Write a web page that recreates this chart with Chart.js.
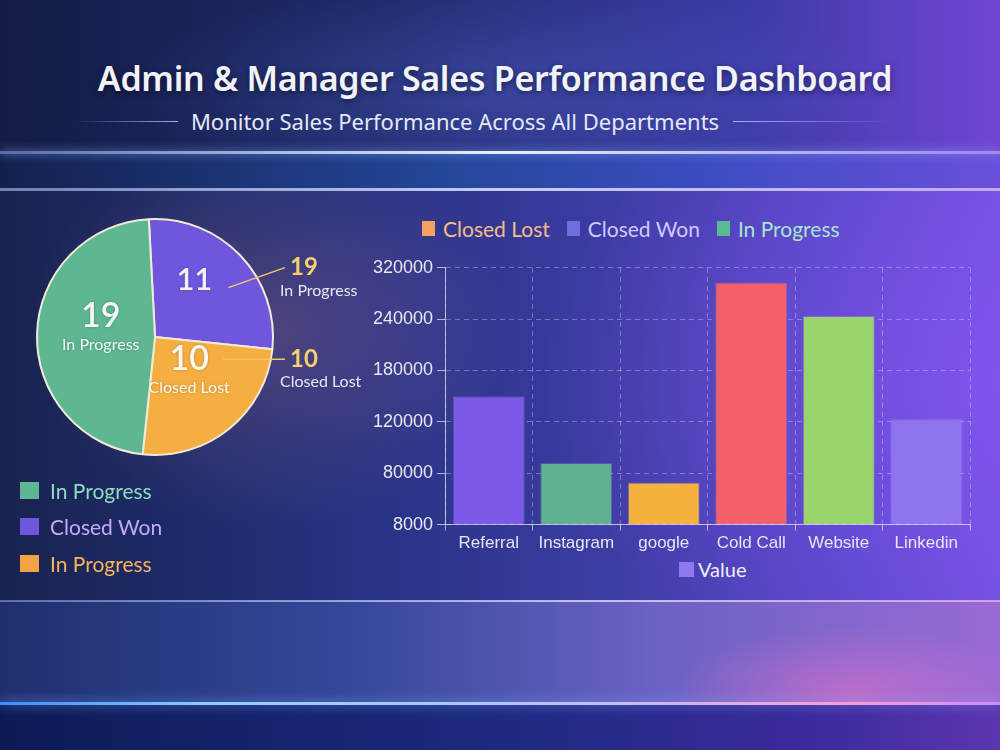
<!DOCTYPE html>
<html>
<head>
<meta charset="utf-8">
<script src="https://cdn.jsdelivr.net/npm/chart.js@4.4.1/dist/chart.umd.min.js"></script>
<style>
  html, body { margin: 0; padding: 0; }
  body {
    width: 1000px; height: 750px; overflow: hidden; position: relative;
    font-family: Lato, "Open Sans", sans-serif;
    background:
      radial-gradient(ellipse 240px 200px at 270px 330px, rgba(230,140,150,.22), rgba(0,0,0,0)),
      radial-gradient(ellipse 460px 320px at 1000px 380px, rgba(150,90,255,.45), rgba(0,0,0,0)),
      linear-gradient(90deg, #19234f 0%, #22307a 30%, #3c3ca2 60%, #5b48cc 85%, #7050e0 100%);
  }
  .band-top { position: absolute; left: 0; top: 0; width: 1000px; height: 152px;
    background:
      radial-gradient(ellipse 380px 110px at 500px 90px, rgba(90,110,220,.35), rgba(0,0,0,0)),
      linear-gradient(90deg, #141c46 0%, #1e2a6a 40%, #3c3aa6 75%, #7146d4 100%); }
  .band-mid { position: absolute; left: 0; top: 152px; width: 1000px; height: 38px;
    background: linear-gradient(90deg, #13204e 0%, #24479a 45%, #3b4cc0 70%, #6a50dc 100%); }
  .band-low { position: absolute; left: 0; top: 601px; width: 1000px; height: 102px;
    background:
      radial-gradient(ellipse 180px 70px at 850px 95px, rgba(255,120,200,.45), rgba(0,0,0,0)),
      linear-gradient(90deg, #1f2f6e 0%, #34489a 35%, #6a62c4 65%, #9a6ad6 100%); }
  .band-bot { position: absolute; left: 0; top: 703px; width: 1000px; height: 47px;
    background: linear-gradient(90deg, #0d1a55 0%, #1d2a80 50%, #3a2a9a 80%, #5b35b0 100%); }
  .glow { position: absolute; left: 0; width: 1000px; }
  .g1 { top: 151px; height: 3px; background: linear-gradient(90deg, rgba(150,180,255,.5), #e8f0ff 50%, rgba(200,170,255,.6));
        box-shadow: 0 0 10px rgba(140,180,255,.8); }
  .g2 { top: 188px; height: 3px; background: linear-gradient(90deg, rgba(170,190,240,.6), rgba(215,220,255,.9) 50%, rgba(220,190,255,.8)); }
  .g3 { top: 600px; height: 2px; background: linear-gradient(90deg, rgba(160,180,240,.5), rgba(220,210,255,.85) 60%, rgba(240,190,240,.7)); }
  .g4 { top: 702px; height: 3px; background: linear-gradient(90deg, #3d8cff, #8fd0ff 22%, #b8c4ff 55%, #ff9ad0 85%, #d08cff);
        box-shadow: 0 0 12px rgba(120,170,255,.9); }
  h1 { position: absolute; left: 0; top: 55px; width: 990px; margin: 0; text-align: center;
    font-family: "Noto Sans", sans-serif; font-weight: 600; font-size: 34px; color: #f2f2fa;
    letter-spacing: -0.3px; text-shadow: 0 2px 6px rgba(0,0,0,.5); }
  .sub { position: absolute; left: 0; top: 106px; width: 910px; text-align: center;
    font-family: "Noto Sans", sans-serif; font-size: 22px; color: #e6e8f6; }
  .rule { position: absolute; top: 121px; height: 1px; }
  .r1 { left: 75px; width: 103px; background: linear-gradient(90deg, rgba(200,210,255,0), rgba(200,210,255,.8)); }
  .r2 { left: 733px; width: 160px; background: linear-gradient(90deg, rgba(210,200,255,.8), rgba(210,200,255,0)); }
  #pieWrap { position: absolute; left: 0; top: 190px; width: 400px; height: 290px; }
  #barWrap { position: absolute; left: 360px; top: 253px; width: 640px; height: 304px; }
  .legend { position: absolute; display: flex; }
  .legend .it { display: flex; align-items: center; }
  .legend .sw { display: inline-block; }
  #pieLegend { left: 20px; top: 472px; flex-direction: column; font-size: 21px; }
  #pieLegend .it { height: 36.5px; }
  #pieLegend .sw { width: 19px; height: 17px; margin-right: 11px; }
  #barLegend { left: 422px; top: 216px; font-size: 21px; }
  #barLegend .it { margin-right: 17px; }
  #barLegend .sw { width: 13px; height: 15px; margin-right: 8px; }
  #valueLegend { left: 679px; top: 557px; font-size: 20px; }
  #valueLegend .sw { width: 15px; height: 15px; margin-right: 4px; }
</style>
</head>
<body>
<div class="band-top"></div>
<div class="band-mid"></div>
<div class="band-low"></div>
<div class="band-bot"></div>
<div class="glow g1"></div>
<div class="glow g2"></div>
<div class="glow g3"></div>
<div class="glow g4"></div>

<h1>Admin &amp; Manager Sales Performance Dashboard</h1>
<div class="rule r1"></div>
<div class="sub">Monitor Sales Performance Across All Departments</div>
<div class="rule r2"></div>

<div id="pieWrap"><canvas id="pie"></canvas></div>
<div id="pieLegend" class="legend"></div>

<div id="barLegend" class="legend"></div>
<div id="barWrap"><canvas id="bar"></canvas></div>
<div id="valueLegend" class="legend"></div>

<script>
// ---- DADOS ----
var pieLabels = ['Closed Won', 'Closed Lost', 'In Progress'];
var pieValues = [11, 10, 19];
var pieColors = ['#6f56dc', '#f4ae42', '#5fb792'];
// textos das chamadas externas (como aparecem na imagem)
var pieCalloutNums  = ['19', '10', null];
var pieCalloutTexts = ['In Progress', 'Closed Lost', null];
// rótulos internos
var pieInnerNums  = ['11', '10', '19'];
var pieInnerTexts = [null, 'Closed Lost', 'In Progress'];

var pieLegendLabels = ['In Progress', 'Closed Won', 'In Progress'];
var pieLegendColors = ['#5fb792', '#6f56dc', '#f2a445'];
var pieLegendText   = ['#8fdcc0', '#c7a8ff', '#f6b45c'];

var barLegendLabels = ['Closed Lost', 'Closed Won', 'In Progress'];
var barLegendColors = ['#f3a35f', '#6f6ee0', '#5cbb8e'];
var barLegendText   = ['#f6bd86', '#d4c8ff', '#a6e6cf'];

var categories = ['Referral', 'Instagram', 'google', 'Cold Call', 'Website', 'Linkedin'];
var values     = [150000, 88000, 67000, 297000, 245000, 123000];
var barColors  = ['#7a5ae6', '#5fb08f', '#f5b23e', '#f4606a', '#9ad46a', '#8f74f0'];
var yTicks     = [8000, 80000, 120000, 180000, 240000, 320000];
var seriesName = 'Value';
var seriesSwatch = '#8e78f0';

// ---- LEGENDAS HTML ----
function buildLegend(id, labels, colors, textColors) {
  var el = document.getElementById(id);
  labels.forEach(function(l, i) {
    var it = document.createElement('div');
    it.className = 'it';
    it.innerHTML = '<span class="sw" style="background:' + colors[i] + '"></span>' +
      '<span style="color:' + textColors[i] + '">' + l + '</span>';
    el.appendChild(it);
  });
}
buildLegend('pieLegend', pieLegendLabels, pieLegendColors, pieLegendText);
buildLegend('barLegend', barLegendLabels, barLegendColors, barLegendText);
buildLegend('valueLegend', [seriesName], [seriesSwatch], ['#f0ecff']);

// ---- PIE ----
var pieLabelPlugin = {
  id: 'pieLabelPlugin',
  afterDatasetsDraw: function(chart) {
    var ctx = chart.ctx;
    var meta = chart.getDatasetMeta(0);
    ctx.save();
    meta.data.forEach(function(arc, i) {
      var p = arc.getProps(['x', 'y', 'startAngle', 'endAngle', 'outerRadius']);
      var mid = (p.startAngle + p.endAngle) / 2;
      var r = p.outerRadius * 0.46;
      var lx = p.x + Math.cos(mid) * r;
      var ly = p.y + Math.sin(mid) * r;
      var ny;
      ctx.textAlign = 'center';
      ctx.textBaseline = 'middle';
      ctx.fillStyle = 'rgba(255,255,255,0.93)';
      ctx.shadowColor = 'rgba(0,0,0,0.25)';
      ctx.shadowBlur = 3;
      if (pieInnerTexts[i]) {
        ny = ly - 20;
        ctx.font = '600 34px Lato';
        ctx.fillText(pieInnerNums[i], lx, ny);
        ctx.font = '16px Lato';
        ctx.fillText(pieInnerTexts[i], lx, ly + 9);
      } else {
        ny = ly - 20;
        ctx.font = '600 31px Lato';
        ctx.fillText(pieInnerNums[i], lx, ny);
      }
      ctx.shadowBlur = 0;
      if (pieCalloutNums[i]) {
        var sx = lx + 34;
        var sy = pieInnerTexts[i] ? ny : ny + 8;
        var ex = p.x + p.outerRadius + 12;
        var ey = pieInnerTexts[i] ? ny : ny - 12;
        ctx.strokeStyle = '#f3c766';
        ctx.lineWidth = 1.5;
        ctx.beginPath();
        ctx.moveTo(sx, sy);
        ctx.lineTo(ex, ey);
        ctx.stroke();
        ctx.fillStyle = '#f6cf6e';
        ctx.textAlign = 'left';
        ctx.font = 'bold 24px Lato';
        ctx.fillText(pieCalloutNums[i], ex + 5, ey);
        ctx.fillStyle = '#e8e6f4';
        ctx.font = '16px Lato';
        ctx.fillText(pieCalloutTexts[i], ex - 5, ey + 23);
      }
    });
    ctx.restore();
  }
};

new Chart(document.getElementById('pie'), {
  type: 'pie',
  data: {
    labels: pieLabels,
    datasets: [{ data: pieValues, backgroundColor: pieColors,
      borderColor: '#f1ead8', borderWidth: 2 }]
  },
  options: {
    responsive: true, maintainAspectRatio: false, animation: false,
    rotation: -3,
    layout: { padding: { left: 36, top: 28, right: 126, bottom: 24 } },
    plugins: { legend: { display: false }, tooltip: { enabled: false } }
  },
  plugins: [pieLabelPlugin]
});

// ---- BARRAS ----
// o eixo Y da imagem tem marcas igualmente espaçadas com valores irregulares:
// converte o valor para a posição entre as marcas vizinhas
function toAxis(v) {
  for (var i = 1; i < yTicks.length; i++) {
    if (v <= yTicks[i]) return (i - 1) + (v - yTicks[i - 1]) / (yTicks[i] - yTicks[i - 1]);
  }
  return yTicks.length - 1;
}

var tickFont = { family: '"Liberation Sans", Arial, sans-serif', size: 17 };

new Chart(document.getElementById('bar'), {
  type: 'bar',
  data: {
    labels: categories,
    datasets: [{ label: seriesName, data: values.map(toAxis), backgroundColor: barColors,
      borderColor: 'rgba(255,255,255,0.15)', borderWidth: 1,
      barPercentage: 0.84, categoryPercentage: 0.98 }]
  },
  options: {
    responsive: true, maintainAspectRatio: false, animation: false,
    layout: { padding: { top: 8, right: 30, left: 0, bottom: 0 } },
    plugins: { tooltip: { enabled: false }, legend: { display: false } },
    scales: {
      x: {
        grid: { color: 'rgba(225,225,255,0.38)', tickColor: 'rgba(225,225,250,0.7)', tickLength: 6 },
        border: { color: 'rgba(225,225,250,0.75)', dash: [5, 4] },
        ticks: { color: '#e6e6f4', font: tickFont, padding: 3 }
      },
      y: {
        min: 0, max: yTicks.length - 1,
        afterFit: function(s) { s.width = 85; },
        grid: { color: 'rgba(225,225,255,0.36)', tickColor: 'rgba(225,225,250,0.75)', tickLength: 8 },
        border: { color: 'rgba(225,225,250,0.75)', dash: [5, 4] },
        ticks: { stepSize: 1, color: '#e6e6f4', font: { family: tickFont.family, size: 18 }, padding: 4,
          callback: function(v) { return yTicks[v]; } }
      }
    }
  }
});
</script>
</body>
</html>
